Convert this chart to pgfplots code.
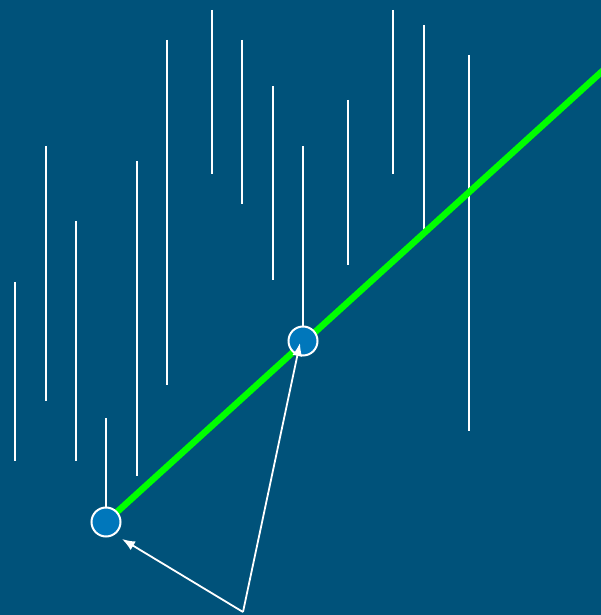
\documentclass[border=0pt]{standalone}
\usepackage{pgfplots}
\pgfplotsset{compat=1.18}
\usetikzlibrary{arrows.meta}
\definecolor{bg}{HTML}{00527A}
\definecolor{dot}{HTML}{0077BB}
\definecolor{grn}{HTML}{00FF00}
\begin{document}
\begin{tikzpicture}
\begin{axis}[
  set layers,
  x=1bp, y=1bp, xmin=0, xmax=601, ymin=0, ymax=615,
  scale only axis, axis lines=none, ticks=none, clip=true,
  unbounded coords=jump,
]
\addplot[fill=bg, draw=none] coordinates {(0,0) (601,0) (601,615) (0,615)} -- cycle;
\addplot[white, line width=1.5bp] coordinates {
(15,333) (15,154) (nan,nan)
(46,469) (46,214) (nan,nan)
(76,394) (76,154) (nan,nan)
(106,197) (106,93) (nan,nan)
(137,454) (137,139) (nan,nan)
(167,575) (167,230) (nan,nan)
(212,605) (212,441) (nan,nan)
(242,575) (242,411) (nan,nan)
(273,529) (273,335) (nan,nan)
(303,469) (303,274) (nan,nan)
(348,515) (348,350) (nan,nan)
(393,605) (393,441) (nan,nan)
(424,590) (424,385) (nan,nan)
(469,560) (469,184)
};
\addplot[grn, line width=6.5bp] coordinates {(106,93) (630,569)};
\addplot[only marks, mark=*, mark size=14.5bp, mark options={fill=dot, draw=white, line width=2bp}] coordinates {(106,93) (303,274)};
\addplot[on layer=axis foreground, white, line width=1.8bp, -{Latex[length=13bp,width=10bp]}] coordinates {(243,3) (122,76)};
\addplot[on layer=axis foreground, white, line width=1.8bp, -{Latex[length=13bp,width=10bp]}] coordinates {(243,3) (300,272)};
\end{axis}
\end{tikzpicture}
\end{document}
